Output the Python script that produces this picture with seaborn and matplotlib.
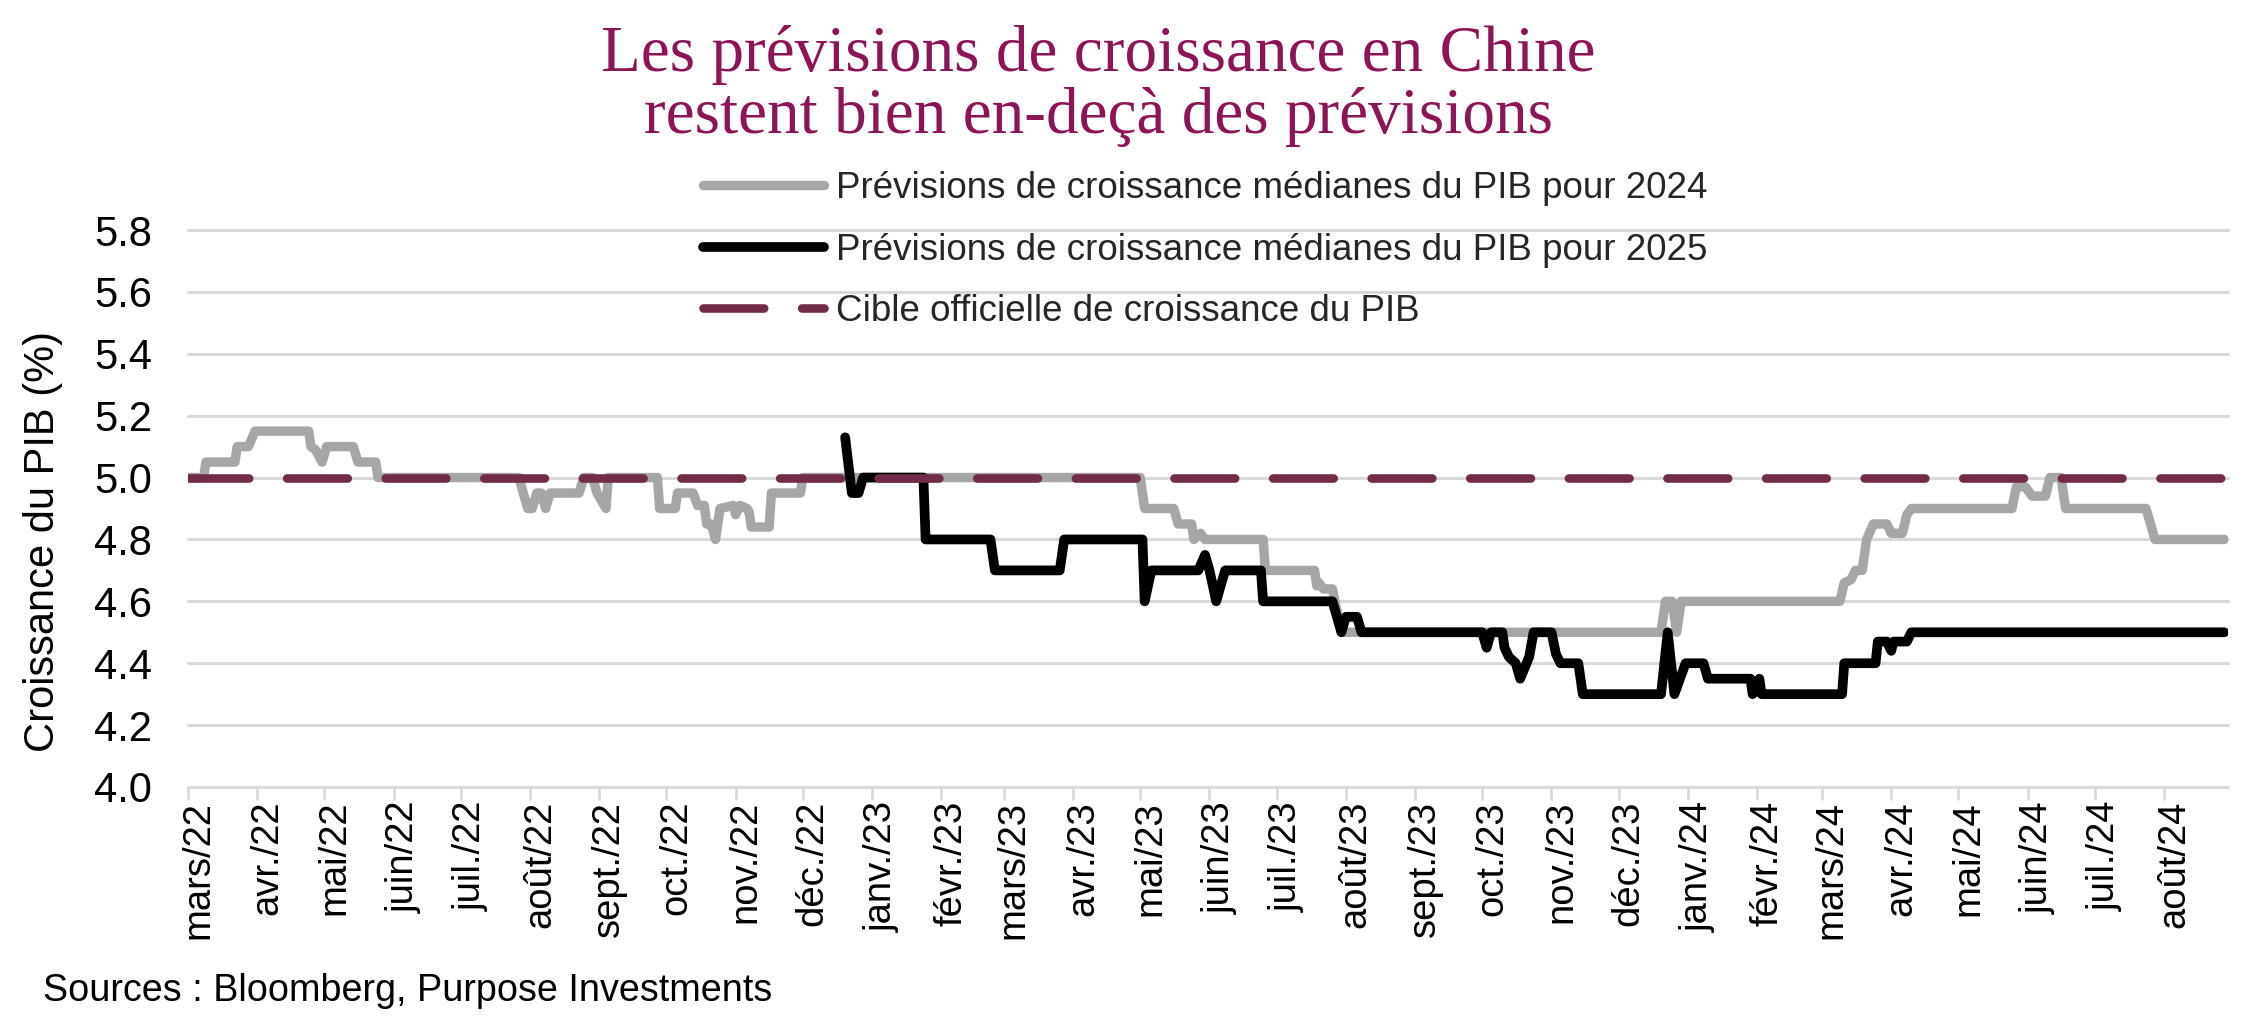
import matplotlib
matplotlib.use("Agg")
import matplotlib.pyplot as plt
import seaborn as sns
import pandas as pd
import numpy as np
from matplotlib.transforms import ScaledTranslation

# ---------------- data ----------------
dates_2024 = [
    "2022-03-01", "2022-03-08", "2022-03-09", "2022-03-22", "2022-03-23", "2022-03-28",
    "2022-03-31", "2022-04-24", "2022-04-25", "2022-04-27", "2022-04-30", "2022-05-02",
    "2022-05-14", "2022-05-16", "2022-05-24", "2022-05-25", "2022-07-27", "2022-07-31",
    "2022-08-02", "2022-08-04", "2022-08-06", "2022-08-08", "2022-08-10", "2022-08-23",
    "2022-08-25", "2022-08-29", "2022-08-31", "2022-09-04", "2022-09-05", "2022-09-27",
    "2022-09-28", "2022-10-05", "2022-10-06", "2022-10-13", "2022-10-15", "2022-10-18",
    "2022-10-19", "2022-10-21", "2022-10-23", "2022-10-25", "2022-10-31", "2022-11-01",
    "2022-11-03", "2022-11-06", "2022-11-07", "2022-11-08", "2022-11-16", "2022-11-17",
    "2022-11-30", "2022-12-01", "2023-05-01", "2023-05-03", "2023-05-16", "2023-05-18",
    "2023-05-24", "2023-05-25", "2023-05-28", "2023-05-30", "2023-06-25", "2023-06-26",
    "2023-07-18", "2023-07-19", "2023-07-20", "2023-07-22", "2023-07-26", "2023-07-30",
    "2023-12-20", "2023-12-22", "2023-12-25", "2023-12-27", "2023-12-29", "2024-03-09",
    "2024-03-11", "2024-03-14", "2024-03-16", "2024-03-19", "2024-03-21", "2024-03-24",
    "2024-03-30", "2024-04-01", "2024-04-06", "2024-04-08", "2024-04-10", "2024-05-25",
    "2024-05-27", "2024-05-31", "2024-06-03", "2024-06-09", "2024-06-11", "2024-06-16",
    "2024-06-18", "2024-07-24", "2024-07-26", "2024-07-28", "2024-08-28",
]
values_2024 = [
    5.00, 5.00, 5.05, 5.05, 5.10, 5.10,
    5.15, 5.15, 5.10, 5.09, 5.05, 5.10,
    5.10, 5.05, 5.05, 5.00, 5.00, 4.90,
    4.90, 4.95, 4.95, 4.90, 4.95, 4.95,
    5.00, 5.00, 4.95, 4.90, 5.00, 5.00,
    4.90, 4.90, 4.95, 4.95, 4.91, 4.91,
    4.85, 4.85, 4.80, 4.90, 4.91, 4.88,
    4.91, 4.90, 4.89, 4.84, 4.84, 4.95,
    4.95, 5.00, 5.00, 4.90, 4.90, 4.85,
    4.85, 4.80, 4.82, 4.80, 4.80, 4.70,
    4.70, 4.65, 4.66, 4.64, 4.64, 4.50,
    4.50, 4.60, 4.60, 4.50, 4.60, 4.60,
    4.66, 4.67, 4.70, 4.70, 4.80, 4.85,
    4.85, 4.82, 4.82, 4.88, 4.90, 4.90,
    4.97, 4.97, 4.94, 4.94, 5.00, 5.00,
    4.90, 4.90, 4.85, 4.80, 4.80,
]

dates_2025 = [
    "2022-12-20", "2022-12-23", "2022-12-26", "2022-12-28", "2023-01-24", "2023-01-25",
    "2023-02-23", "2023-02-25", "2023-03-26", "2023-03-28", "2023-05-02", "2023-05-03",
    "2023-05-06", "2023-05-27", "2023-05-30", "2023-06-01", "2023-06-04", "2023-06-06",
    "2023-06-08", "2023-06-24", "2023-06-25", "2023-07-26", "2023-07-30", "2023-08-01",
    "2023-08-06", "2023-08-08", "2023-10-01", "2023-10-03", "2023-10-05", "2023-10-10",
    "2023-10-11", "2023-10-13", "2023-10-16", "2023-10-18", "2023-10-22", "2023-10-24",
    "2023-11-01", "2023-11-03", "2023-11-05", "2023-11-13", "2023-11-15", "2023-12-20",
    "2023-12-23", "2023-12-26", "2023-12-31", "2024-01-08", "2024-01-10", "2024-01-29",
    "2024-01-30", "2024-02-02", "2024-02-03", "2024-03-10", "2024-03-11", "2024-03-25",
    "2024-03-26", "2024-03-30", "2024-04-01", "2024-04-02", "2024-04-08", "2024-04-10",
    "2024-08-28",
]
values_2025 = [
    5.13, 4.95, 4.95, 5.00, 5.00, 4.80,
    4.80, 4.70, 4.70, 4.80, 4.80, 4.60,
    4.70, 4.70, 4.75, 4.70, 4.60, 4.65,
    4.70, 4.70, 4.60, 4.60, 4.50, 4.55,
    4.55, 4.50, 4.50, 4.45, 4.50, 4.50,
    4.45, 4.42, 4.40, 4.35, 4.42, 4.50,
    4.50, 4.43, 4.40, 4.40, 4.30, 4.30,
    4.50, 4.30, 4.40, 4.40, 4.35, 4.35,
    4.30, 4.35, 4.30, 4.30, 4.40, 4.40,
    4.47, 4.47, 4.44, 4.47, 4.47, 4.50,
    4.50,
]

target_dates = ["2022-03-01", "2024-08-28"]
target_values = [5.0, 5.0]

month_labels = [
    "mars/22", "avr./22", "mai/22", "juin/22", "juil./22", "août/22", "sept./22",
    "oct./22", "nov./22", "déc./22", "janv./23", "févr./23", "mars/23", "avr./23",
    "mai/23", "juin/23", "juil./23", "août/23", "sept./23", "oct./23", "nov./23",
    "déc./23", "janv./24", "févr./24", "mars/24", "avr./24", "mai/24", "juin/24",
    "juil./24", "août/24",
]
ytick_values = [4.0, 4.2, 4.4, 4.6, 4.8, 5.0, 5.2, 5.4, 5.6, 5.8]

label_2024 = "Prévisions de croissance médianes du PIB pour 2024"
label_2025 = "Prévisions de croissance médianes du PIB pour 2025"
label_target = "Cible officielle de croissance du PIB"
title_1 = "Les prévisions de croissance en Chine"
title_2 = "restent bien en-deçà des prévisions"
ylabel = "Croissance du PIB (%)"
source = "Sources : Bloomberg, Purpose Investments"

# ---------------- style ----------------
sns.set_theme(style="white")
plt.rcParams["font.family"] = ["Liberation Sans", "DejaVu Sans"]

GRAY = "#A6A6A6"
BLACK = "#000000"
TARGET = "#722C4A"
TITLE = "#8C1558"
GRID = "#D9D9D9"

W, H = 2253, 1027
fig = plt.figure(figsize=(W / 100, H / 100), dpi=100)
ax = fig.add_axes([188 / W, 1 - 787 / H, (2228 - 188) / W, (787 - 230) / H])

df24 = pd.DataFrame({"date": pd.to_datetime(dates_2024), "value": values_2024})
df25 = pd.DataFrame({"date": pd.to_datetime(dates_2025), "value": values_2025})
dft = pd.DataFrame({"date": pd.to_datetime(target_dates), "value": target_values})

sns.lineplot(data=df24, x="date", y="value", ax=ax, color=GRAY, linewidth=6.8,
             estimator=None, label=label_2024)
sns.lineplot(data=df25, x="date", y="value", ax=ax, color=BLACK, linewidth=7,
             estimator=None, label=label_2025)
sns.lineplot(data=dft, x="date", y="value", ax=ax, color=TARGET, linewidth=6.2,
             estimator=None, label=label_target)

lines = ax.get_lines()
for ln in lines:
    ln.set_solid_capstyle("round")
    ln.set_solid_joinstyle("round")
    ln.set_dash_capstyle("round")
lines[2].set_linestyle((0, (7.05, 4.4)))
lines[0].set_zorder(3)
lines[1].set_zorder(4)
lines[2].set_zorder(5)

ax.set_xlim(pd.Timestamp("2022-03-01"), pd.Timestamp("2024-08-29 16:00"))
ax.set_ylim(4.0, 5.8)

ticks = pd.date_range("2022-03-01", periods=len(month_labels), freq="MS")
ax.set_xticks(ticks)
ax.set_xticklabels(month_labels, rotation=90, fontsize=27.5)
ax.set_yticks(ytick_values)
ax.set_yticklabels([f"{v:.1f}" for v in ytick_values], fontsize=30)

for s in ax.spines.values():
    s.set_visible(False)
ax.yaxis.grid(True, color=GRID, linewidth=2.2)
ax.xaxis.grid(False)
for gl in ax.get_ygridlines():
    gl.set_clip_on(False)
ax.set_axisbelow(True)

ax.tick_params(axis="x", bottom=True, length=9, width=2, color=GRID, pad=1,
               labelcolor="black", direction="out")
ax.tick_params(axis="y", left=False, length=0, pad=26, labelcolor="black")
ax.set_xlabel("")
ax.set_ylabel("")

off = ScaledTranslation(10 / 100, 0, fig.dpi_scale_trans)
for lbl in ax.get_xticklabels():
    lbl.set_transform(lbl.get_transform() + off)

leg = ax.legend(handles=lines, labels=[label_2024, label_2025, label_target],
                loc="upper left", bbox_to_anchor=(703 / W, 1 - 171 / H),
                bbox_transform=fig.transFigure, frameon=False, borderpad=0,
                borderaxespad=0, handlelength=3.3, handletextpad=0.3,
                labelspacing=0.72, fontsize=26.5)
leg.set_zorder(10)

fig.text(43 / W, 1 - 542 / H, ylabel, rotation=90, ha="center", va="center",
         fontsize=30, color="black")
fig.text(1098 / W, 1 - 55 / H, title_1, ha="center", va="center", fontsize=47,
         family=["Liberation Serif", "DejaVu Serif"], color=TITLE)
fig.text(1098 / W, 1 - 117 / H, title_2, ha="center", va="center", fontsize=47,
         family=["Liberation Serif", "DejaVu Serif"], color=TITLE)
fig.text(43 / W, 1 - 991 / H, source, ha="left", va="center", fontsize=27.2,
         color="black")

fig.savefig("out.png", dpi=100)
